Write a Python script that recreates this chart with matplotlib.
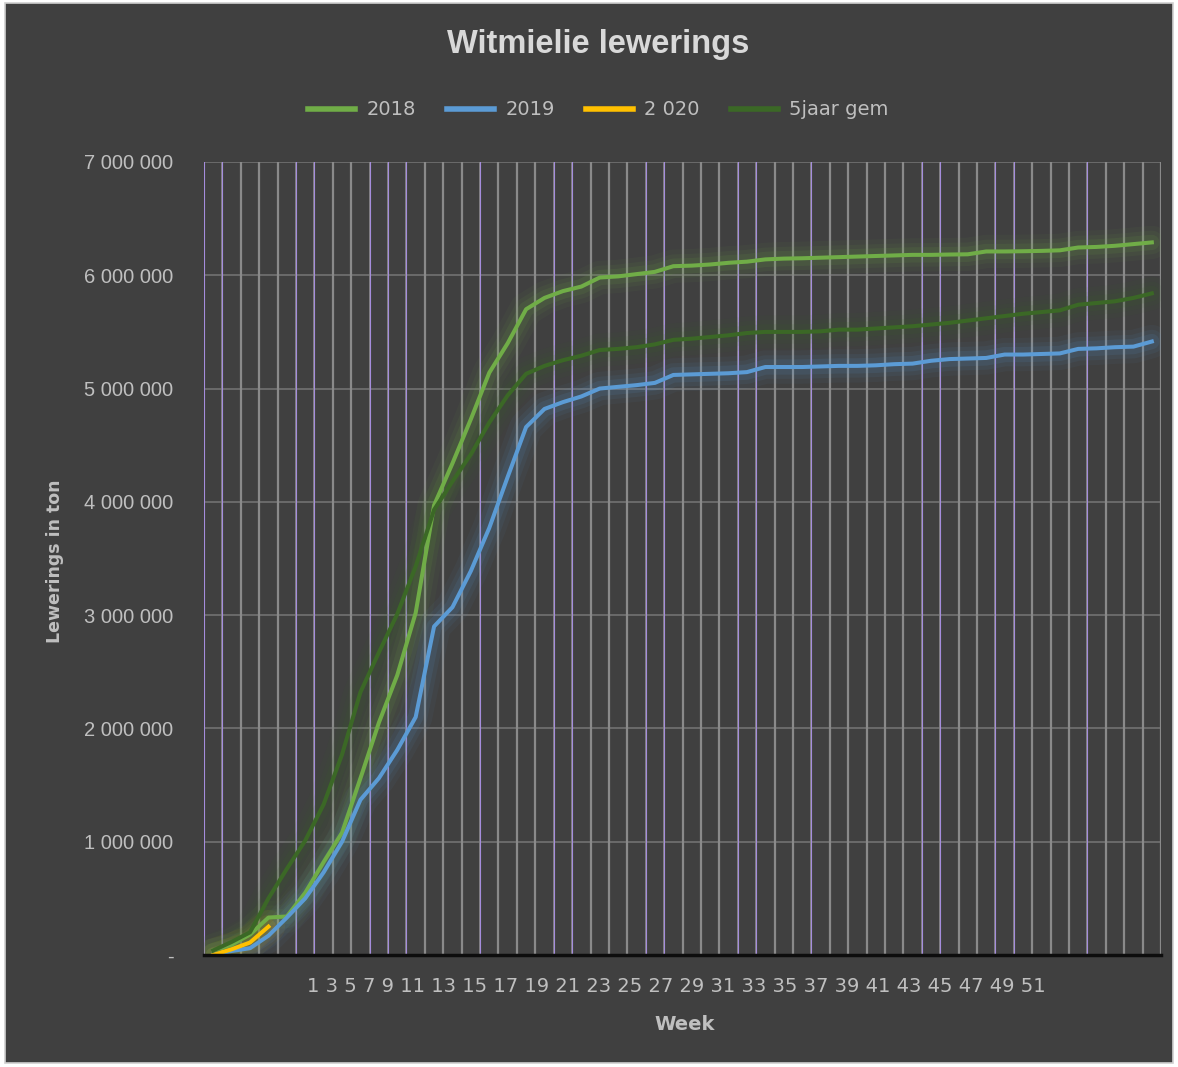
import numpy as np
import matplotlib
matplotlib.use("Agg")
import matplotlib.pyplot as plt
from matplotlib.patches import Rectangle

# ---- data (tons) ----
weeks = np.arange(52)
week_labels = [str(w) for w in range(1, 52, 2)]

del_2018 = [0.04, 0.09, 0.18, 0.33, 0.34, 0.55, 0.82, 1.08, 1.56, 2.05, 2.47, 3.02,
            3.97, 4.34, 4.73, 5.14, 5.40, 5.70, 5.80, 5.86, 5.90, 5.98, 5.99, 6.01,
            6.03, 6.08, 6.085, 6.095, 6.11, 6.12, 6.14, 6.147, 6.15, 6.155, 6.16, 6.165,
            6.17, 6.175, 6.18, 6.18, 6.183, 6.185, 6.21, 6.21, 6.212, 6.215, 6.22, 6.245,
            6.25, 6.26, 6.275, 6.29]
del_2019 = [0.0, 0.035, 0.06, 0.17, 0.33, 0.50, 0.73, 1.00, 1.37, 1.56, 1.81, 2.10,
            2.90, 3.07, 3.39, 3.77, 4.22, 4.66, 4.82, 4.88, 4.93, 5.00, 5.015, 5.03,
            5.05, 5.12, 5.125, 5.13, 5.135, 5.145, 5.19, 5.19, 5.19, 5.195, 5.20, 5.20,
            5.205, 5.215, 5.22, 5.245, 5.26, 5.265, 5.27, 5.30, 5.30, 5.305, 5.31, 5.35,
            5.355, 5.365, 5.37, 5.415]
del_2020 = [0.0, 0.05, 0.11, 0.25]
avg_5yr = [0.04, 0.115, 0.20, 0.50, 0.76, 1.01, 1.33, 1.77, 2.32, 2.67, 3.01, 3.43,
           3.93, 4.18, 4.42, 4.70, 4.94, 5.13, 5.20, 5.25, 5.29, 5.34, 5.35, 5.365,
           5.39, 5.43, 5.44, 5.455, 5.47, 5.49, 5.50, 5.50, 5.50, 5.505, 5.52, 5.52,
           5.53, 5.54, 5.55, 5.565, 5.58, 5.60, 5.62, 5.64, 5.66, 5.675, 5.69, 5.74,
           5.755, 5.77, 5.80, 5.84]

series = [("2018", del_2018, "#70ad47"),
          ("2019", del_2019, "#5b9bd5"),
          ("2 020", del_2020, "#ffc000"),
          ("5jaar gem", avg_5yr, "#3b6826")]

purple_lines = [0, 1, 5, 6, 9, 10, 11, 15, 19, 20, 24, 25, 29, 30, 33, 39, 40, 43, 44, 48]

bg = "#404040"
txt = "#bfbfbf"

fig = plt.figure(figsize=(11.78, 10.67), dpi=100, facecolor="white")
fig.patches.append(Rectangle((0.004, 0.004), 0.992, 0.993, transform=fig.transFigure,
                             facecolor=bg, edgecolor="#d0d0d0", lw=1.2, zorder=-10))
ax = fig.add_axes([0.1732, 0.1050, 0.8124, 0.7432])
ax.set_facecolor(bg)

# gridlines
for yv in range(0, 8):
    ax.axhline(yv * 1e6, color="#6e6e6e", lw=1.3, zorder=1)
for b in range(53):
    xb = b - 0.5
    if b in purple_lines:
        ax.axvline(xb, color="#858585", lw=1.3, zorder=1)
        ax.axvline(xb, color="#a58ddc", lw=0.8, zorder=1)
    else:
        ax.axvline(xb, color="#8a8a8a", lw=1.6, zorder=1)

# lines with soft glow
for name, vals, col in series:
    y = np.array(vals) * 1e6
    x = weeks[:len(y)]
    for lw, a in [(24, 0.05), (17, 0.07), (11, 0.11)]:
        ax.plot(x, y, color=col, lw=lw, alpha=a, solid_capstyle="round", zorder=2)
    ax.plot(x, y, color=col, lw=2.9, label=name, zorder=3)

ax.set_xlim(-0.5, 51.5)
ax.set_ylim(0, 7e6)
ax.set_yticks(np.arange(0, 8) * 1e6)
ax.set_yticklabels(["-"] + [f"{v:,}".replace(",", " ") for v in range(1000000, 8000000, 1000000)],
                   color=txt, fontsize=14.5, family="Liberation Sans")
ax.tick_params(axis="y", length=0, pad=22)
ax.set_xticks([])
for s in ["top", "right", "left"]:
    ax.spines[s].set_visible(False)
ax.spines["bottom"].set_color("#0d0d0d")
ax.spines["bottom"].set_linewidth(2.5)
ax.spines["bottom"].set_zorder(4)

# Excel-style squeezed week labels
ax.text(0.493, -0.04, " ".join(week_labels), transform=ax.transAxes, ha="center", va="center",
        color=txt, fontsize=14, family="Liberation Sans Narrow")
ax.text(0.502, -0.0875, "Week", transform=ax.transAxes, ha="center", va="center",
        color=txt, fontsize=14, fontweight="bold", family="Liberation Sans Narrow")
fig.text(0.047, 0.474, "Lewerings in ton", rotation=90, ha="center", va="center",
         color=txt, fontsize=12.5, fontweight="bold", family="Liberation Sans Narrow")

fig.text(0.508, 0.958, "Witmielie lewerings", ha="center", va="center", color="#d9d9d9",
         fontsize=23.5, fontweight="bold", family="Liberation Sans")

leg = fig.legend(loc="center", bbox_to_anchor=(0.508, 0.897), ncol=4, frameon=False,
                 handlelength=2.4, columnspacing=1.6, handletextpad=0.6,
                 prop={"family": "Liberation Sans Narrow", "size": 14})
for t in leg.get_texts():
    t.set_color(txt)
for h in leg.get_lines():
    h.set_linewidth(4)

fig.savefig("out.png", dpi=100, facecolor=fig.get_facecolor())
